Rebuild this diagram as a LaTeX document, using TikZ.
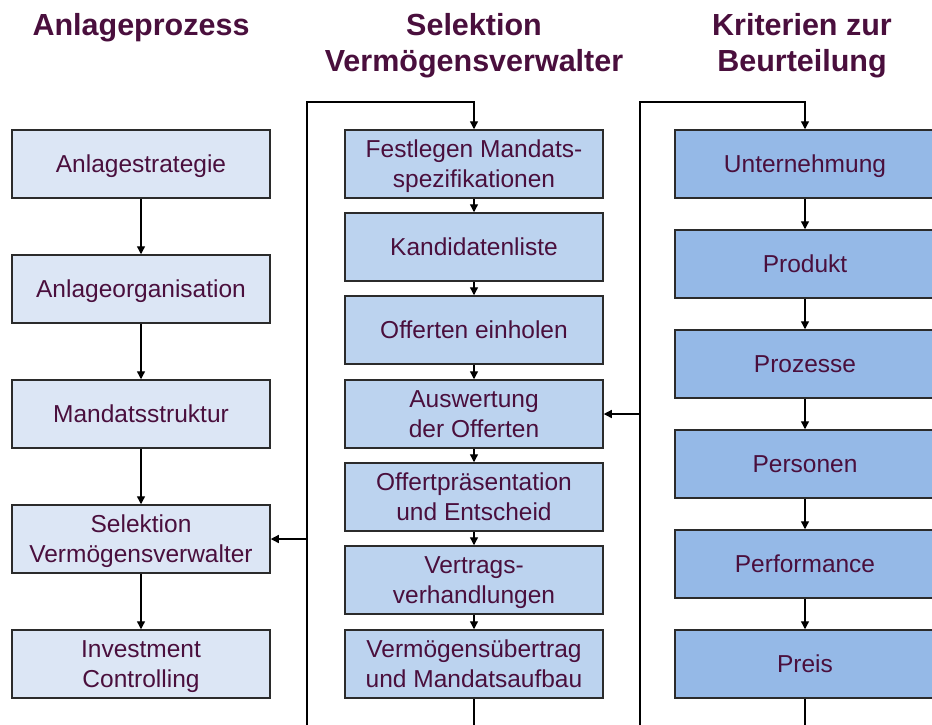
\documentclass[tikz,border=0pt]{standalone}
\usepackage{fontspec}
\setmainfont{Liberation Sans}
\usetikzlibrary{arrows.meta}
\definecolor{txt}{HTML}{4A0F3D}
\definecolor{fillA}{HTML}{DCE6F5}
\definecolor{fillB}{HTML}{BCD3EF}
\definecolor{fillC}{HTML}{95B9E7}
\definecolor{edge}{HTML}{2B2B2B}
\newcommand{\boxtxt}[1]{\raisebox{-2.5pt}[\height][\depth]{\begin{tabular}{@{}c@{}}#1\end{tabular}}}
\tikzset{
  box/.style={draw=edge, line width=1.5pt, rectangle, minimum height=68pt, inner sep=0pt,
    text=txt, font=\fontsize{24.5}{30}\selectfont},
  boxA/.style={box, fill=fillA, minimum width=258pt},
  boxB/.style={box, fill=fillB, minimum width=258pt},
  boxC/.style={box, fill=fillC, minimum width=260pt},
  head/.style={text=txt, font=\fontsize{30.5}{36}\selectfont\bfseries, anchor=base, inner sep=0pt},
  conn/.style={line width=1.3pt, black},
  arr/.style={conn, -{Triangle[width=8pt,length=8pt]}}
}
\begin{document}
\begin{tikzpicture}[x=1pt,y=-1pt]
\useasboundingbox (0,0) rectangle (932,724);
\clip (0,0) rectangle (932,724);
% headers
\node[head] (h1) at (141,35) {Anlageprozess};
\node[head] (h2a) at (474,35) {Selektion};
\node[head] (h2b) at (474,71) {Vermögensverwalter};
\node[head] (h3a) at (802,35) {Kriterien zur};
\node[head] (h3b) at (802,71) {Beurteilung};
% left column
\node[boxA] (a1) at (141,164) {\boxtxt{Anlagestrategie}};
\node[boxA] (a2) at (141,289) {\boxtxt{Anlageorganisation}};
\node[boxA] (a3) at (141,414) {\boxtxt{Mandatsstruktur}};
\node[boxA] (a4) at (141,539) {\boxtxt{Selektion\\Vermögensverwalter}};
\node[boxA] (a5) at (141,664) {\boxtxt{Investment\\Controlling}};
% middle column
\node[boxB] (m1) at (474,164) {\boxtxt{Festlegen Mandats-\\spezifikationen}};
\node[boxB] (m2) at (474,247) {\boxtxt{Kandidatenliste}};
\node[boxB] (m3) at (474,330) {\boxtxt{Offerten einholen}};
\node[boxB] (m4) at (474,414) {\boxtxt{Auswertung\\der Offerten}};
\node[boxB] (m5) at (474,497) {\boxtxt{Offertpräsentation\\und Entscheid}};
\node[boxB] (m6) at (474,580) {\boxtxt{Vertrags-\\verhandlungen}};
\node[boxB] (m7) at (474,664) {\boxtxt{Vermögensübertrag\\und Mandatsaufbau}};
% right column
\node[boxC] (r1) at (805,164) {\boxtxt{Unternehmung}};
\node[boxC] (r2) at (805,264) {\boxtxt{Produkt}};
\node[boxC] (r3) at (805,364) {\boxtxt{Prozesse}};
\node[boxC] (r4) at (805,464) {\boxtxt{Personen}};
\node[boxC] (r5) at (805,564) {\boxtxt{Performance}};
\node[boxC] (r6) at (805,664) {\boxtxt{Preis}};
% column arrows
\foreach \p/\q in {a1/a2,a2/a3,a3/a4,a4/a5,m1/m2,m2/m3,m3/m4,m4/m5,m5/m6,m6/m7,r1/r2,r2/r3,r3/r4,r4/r5,r5/r6}
  \draw[arr] (\p.south) -- (\q.north);
% loops
\coordinate (mlt) at (307,102);
\coordinate (mlb) at (307,730);
\coordinate (rlt) at (640,102);
\coordinate (rlb) at (640,730);
\coordinate (mbot) at (474,730);
\coordinate (rbot) at (805,730);
\draw[arr] (mlb) -- (mlt) -| (m1.north);
\draw[arr] (rlb) -- (rlt) -| (r1.north);
\draw[conn] (m7.south) -- (mbot);
\draw[conn] (r6.south) -- (rbot);
\draw[arr] (a4.east -| mlt) -- (a4.east);
\draw[arr] (m4.east -| rlt) -- (m4.east);
\end{tikzpicture}
\end{document}
